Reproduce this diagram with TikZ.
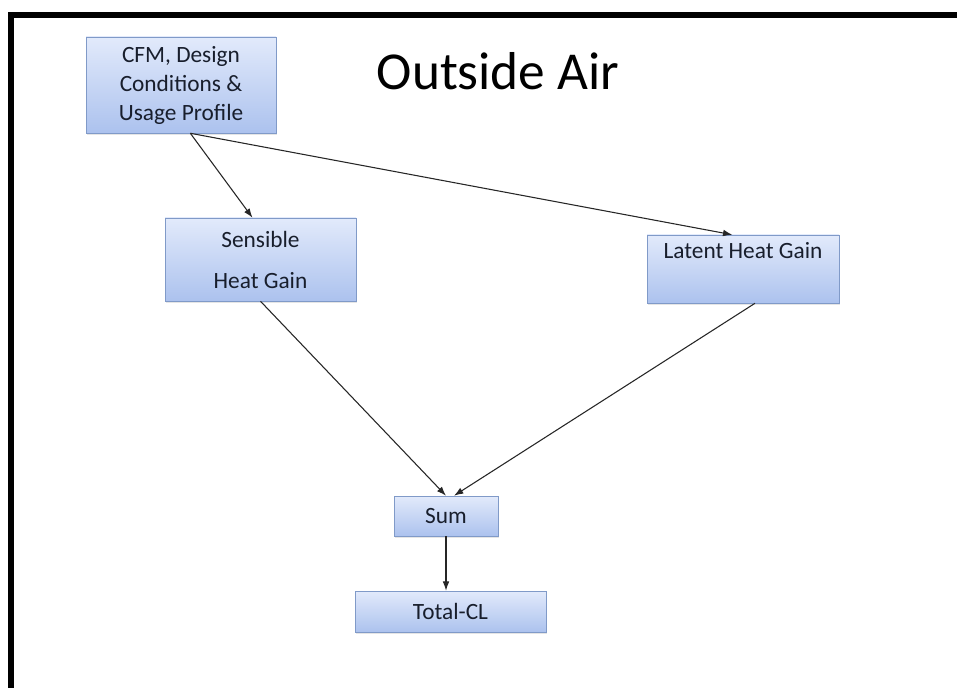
\documentclass[tikz,border=0pt]{standalone}
\usepackage{fontspec}
\setmainfont{Carlito}
\usetikzlibrary{arrows.meta,shadows}
\definecolor{boxtop}{RGB}{226,234,251}
\definecolor{boxbot}{RGB}{172,194,238}
\definecolor{boxline}{RGB}{128,154,200}
\definecolor{boxtext}{RGB}{24,30,44}
\tikzset{
  blok/.style={draw=boxline, top color=boxtop, bottom color=boxbot, text=boxtext,
    font=\fontsize{17.5}{21.75}\selectfont, align=center, inner sep=0pt,
    drop shadow={opacity=0.2, shadow xshift=1pt, shadow yshift=-1.2pt}},
  pijl/.style={-{Latex[length=7pt,width=5pt]}, line width=0.8pt, black!85}
}

\begin{document}
\begin{tikzpicture}[x=0.75pt,y=-0.75pt]
    \useasboundingbox (0,0) rectangle (957,688);
    \fill[white] (0,0) rectangle (957,688);
    % frame, top and left only
    \fill[black] (8,12) rectangle (957,18);
    \fill[black] (8,12) rectangle (14,688);

    \node[font=\fontsize{40}{48}\selectfont] (title) at (498,71) {Outside Air};

    \node[blok, minimum width=142.5pt, minimum height=72pt] (cfm) at (181,85)
        {CFM, Design\\Conditions \&\\Usage Profile};
    \node[blok, minimum width=143.25pt, minimum height=62.25pt] (sensible) at (260.5,259.5)
        {Sensible\\[9pt]Heat Gain};
    \node[blok, minimum width=144pt, minimum height=51pt] (latent) at (743,269)
        {Latent Heat Gain\\\strut};
    \node[blok, minimum width=78pt, minimum height=30pt] (sum) at (446,516) {Sum};
    \node[blok, minimum width=143.25pt, minimum height=30.75pt] (total) at (450.5,611.5) {Total-CL};

    \draw[pijl] ([xshift=7pt]cfm.south) -- ([xshift=-6pt]sensible.north);
    \draw[pijl] ([xshift=7pt]cfm.south) -- ([xshift=-8pt]latent.north);
    \draw[pijl] (sensible.south) -- (sum.north);
    \draw[pijl] ([xshift=9pt]latent.south) -- ([xshift=6pt]sum.north);
    \draw[pijl] (sum.south) -- (sum.south |- total.north);

\end{tikzpicture}
\end{document}
